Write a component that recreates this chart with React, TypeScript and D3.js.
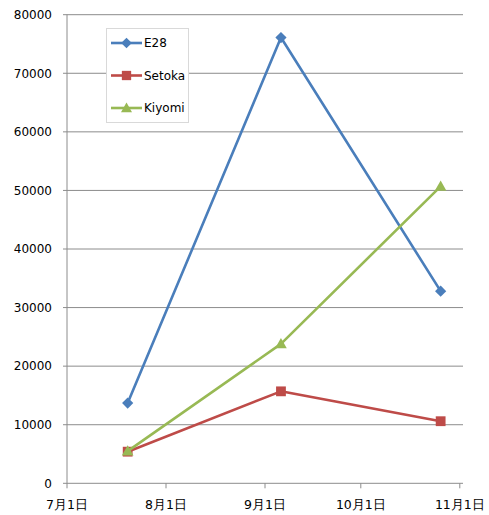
import React from "react";
import * as d3 from "d3";

const W = 489;
const H = 515;

const dates = [
  new Date(Date.UTC(2010, 6, 20)),
  new Date(Date.UTC(2010, 8, 6)),
  new Date(Date.UTC(2010, 9, 26)),
];
const e28 = [13700, 76100, 32800];
const setoka = [5400, 15700, 10600];
const kiyomi = [5500, 23800, 50700];

const yTicks = [0, 10000, 20000, 30000, 40000, 50000, 60000, 70000, 80000];
const xTicks = [
  new Date(Date.UTC(2010, 6, 1)),
  new Date(Date.UTC(2010, 7, 1)),
  new Date(Date.UTC(2010, 8, 1)),
  new Date(Date.UTC(2010, 9, 1)),
  new Date(Date.UTC(2010, 10, 1)),
];
const xTickLabels = ["7月1日", "8月1日", "9月1日", "10月1日", "11月1日"];

const series = [
  { name: "E28", values: e28, color: "#4A7EBB", marker: "diamond" },
  { name: "Setoka", values: setoka, color: "#BE4B48", marker: "square" },
  { name: "Kiyomi", values: kiyomi, color: "#98B954", marker: "triangle" },
];

const left = 67;
const right = 463;
const top = 14.7;
const bottom = 483.3;

const x = d3
  .scaleUtc()
  .domain([new Date(Date.UTC(2010, 6, 1)), new Date(Date.UTC(2010, 10, 2))])
  .range([left, right]);
const y = d3.scaleLinear().domain([0, 80000]).range([bottom, top]);

const font = "'DejaVu Sans', sans-serif";

// Marker outlines centred on the data point
function markerPath(kind: string) {
  if (kind === "diamond") {
    const r = 5.6;
    return `M0,${-r}L${r},0L0,${r}L${-r},0Z`;
  }
  if (kind === "square") {
    const h = 4.9;
    return `M${-h},${-h}H${h}V${h}H${-h}Z`;
  }
  const w = 5.8;
  return `M0,-5.8L${w},4.4L${-w},4.4Z`;
}

export default function App() {
  const line = d3
    .line<[Date, number]>()
    .x((d) => x(d[0]))
    .y((d) => y(d[1]));

  return (
    <div style={{ position: "absolute", left: 0, top: 0 }}>
      <svg width={W} height={H} style={{ display: "block", background: "#fff" }}>
        {/* horizontal gridlines and y ticks */}
        {yTicks.map((t) => (
          <g key={t}>
            <line
              x1={left}
              x2={right}
              y1={y(t)}
              y2={y(t)}
              stroke="#8c8c8c"
              strokeWidth={1}
            />
            <line x1={left - 4} x2={left} y1={y(t)} y2={y(t)} stroke="#8c8c8c" />
            <text
              x={52}
              y={y(t)}
              dy="0.36em"
              textAnchor="end"
              fontFamily={font}
              fontSize={12}
              fill="#000"
            >
              {t}
            </text>
          </g>
        ))}
        {/* y axis */}
        <line x1={left} x2={left} y1={top} y2={bottom} stroke="#8c8c8c" />
        {/* x ticks */}
        {xTicks.map((d, i) => (
          <g key={i}>
            <line
              x1={x(d)}
              x2={x(d)}
              y1={bottom}
              y2={bottom + 5}
              stroke="#8c8c8c"
            />
            <text
              x={x(d)}
              y={504}
              dy="0.36em"
              textAnchor="middle"
              fontFamily={font}
              fontSize={12.5}
              fill="#000"
            >
              {xTickLabels[i]}
            </text>
          </g>
        ))}
        {/* series */}
        {series.map((s) => {
          const pts = dates.map((d, i) => [d, s.values[i]] as [Date, number]);
          return (
            <g key={s.name}>
              <path
                d={line(pts) as string}
                fill="none"
                stroke={s.color}
                strokeWidth={2.6}
                strokeLinejoin="round"
              />
              {pts.map((p, i) => (
                <path
                  key={i}
                  d={markerPath(s.marker)}
                  transform={`translate(${x(p[0])},${y(p[1])})`}
                  fill={s.color}
                />
              ))}
            </g>
          );
        })}
        {/* legend */}
        <g>
          <rect
            x={106.5}
            y={28.5}
            width={82}
            height={94}
            fill="#fff"
            stroke="#d9d9d9"
          />
          {series.map((s, i) => {
            const ly = 43 + i * 32.5;
            return (
              <g key={s.name}>
                <line
                  x1={111}
                  x2={142}
                  y1={ly}
                  y2={ly}
                  stroke={s.color}
                  strokeWidth={2.6}
                />
                <path
                  d={markerPath(s.marker)}
                  transform={`translate(126.5,${ly}) scale(0.95)`}
                  fill={s.color}
                />
                <text
                  x={144}
                  y={ly}
                  dy="0.36em"
                  fontFamily={font}
                  fontSize={12}
                  fill="#000"
                >
                  {s.name}
                </text>
              </g>
            );
          })}
        </g>
      </svg>
    </div>
  );
}
